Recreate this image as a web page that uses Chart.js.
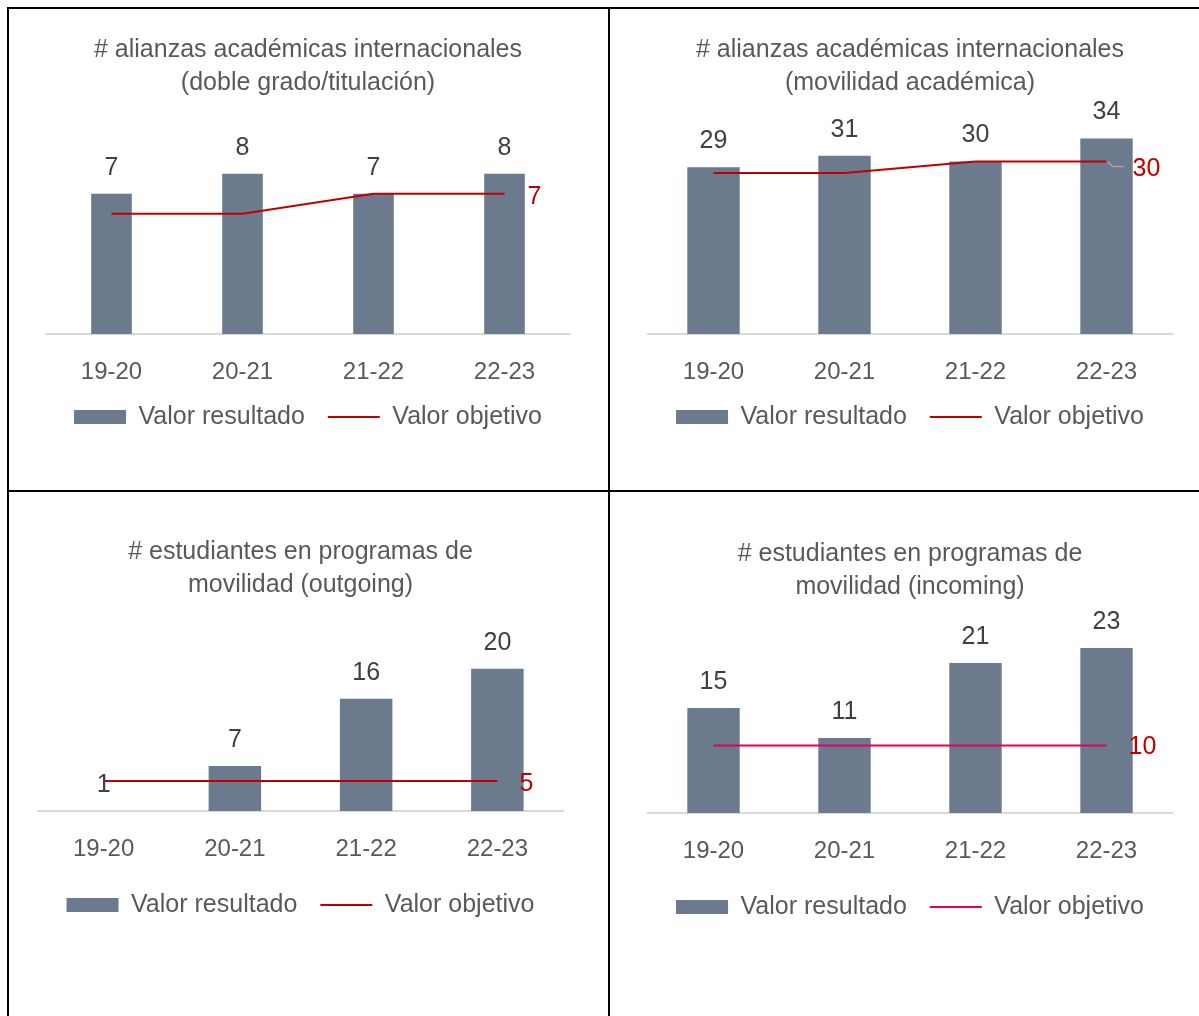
<!DOCTYPE html>
<html lang="es">
<head>
<meta charset="utf-8">
<script src="https://cdn.jsdelivr.net/npm/chart.js@4.4.0/dist/chart.umd.min.js"></script>
<style>
  html, body { margin: 0; padding: 0; background: #fff; }
  #pagina { position: relative; width: 1199px; height: 1016px; overflow: hidden; }
  .borde { position: absolute; background: #000; }
  canvas { position: absolute; }
</style>
</head>
<body>
<div id="pagina">
  <div class="borde" style="left:7px; top:7px; width:1192px; height:2px"></div>
  <div class="borde" style="left:7px; top:490px; width:1192px; height:2px"></div>
  <div class="borde" style="left:7px; top:7px; width:2px; height:1009px"></div>
  <div class="borde" style="left:608px; top:7px; width:2px; height:1009px"></div>
  <canvas id="g_doble_grado" width="597" height="479" style="left:10px; top:10px"></canvas>
  <canvas id="g_movilidad_acad" width="588" height="479" style="left:611px; top:10px"></canvas>
  <canvas id="g_outgoing" width="597" height="523" style="left:10px; top:493px"></canvas>
  <canvas id="g_incoming" width="588" height="523" style="left:611px; top:493px"></canvas>
</div>
<script>
// datos
const periodos = ['19-20', '20-21', '21-22', '22-23'];

const dobleGradoResultado = [7, 8, 7, 8];
const dobleGradoObjetivo = [6, 6, 7, 7];

const movilidadAcadResultado = [29, 31, 30, 34];
const movilidadAcadObjetivo = [28, 28, 30, 30];

const outgoingResultado = [1, 7, 16, 20];
const outgoingObjetivo = [5, 5, 5, 5];

const incomingResultado = [15, 11, 21, 23];
const incomingObjetivo = [10, 10, 10, 10];

const FUENTE = '"Liberation Sans", Arial, sans-serif';
const COR_BARRA = '#6b7a8d';
const COR_TEXTO = '#595959';

// etiquetas encima de las barras + valor al final de la linea objetivo
const etiquetasValores = {
  id: 'etiquetasValores',
  afterDatasetsDraw(chart, args, opts) {
    const ctx = chart.ctx;
    const barras = chart.getDatasetMeta(0);
    const valores = chart.data.datasets[0].data;

    ctx.save();
    ctx.font = '25px ' + FUENTE;
    ctx.fillStyle = '#404040';
    ctx.textAlign = 'center';
    ctx.textBaseline = 'middle';
    barras.data.forEach((barra, i) => {
      ctx.fillText(valores[i], barra.x, barra.y - 26);
    });

    const linea = chart.getDatasetMeta(1);
    const ultimo = linea.data[linea.data.length - 1];
    const objetivo = chart.data.datasets[1].data;
    const dx = opts.dx || 23;
    const dy = opts.dy || 3;

    if (opts.guia) {
      ctx.strokeStyle = '#a6a6a6';
      ctx.lineWidth = 1.5;
      ctx.beginPath();
      ctx.moveTo(ultimo.x + 1, ultimo.y);
      ctx.lineTo(ultimo.x + 6, ultimo.y + 5);
      ctx.lineTo(ultimo.x + 17, ultimo.y + 5);
      ctx.stroke();
    }

    ctx.fillStyle = '#c00000';
    ctx.textAlign = 'left';
    ctx.fillText(objetivo[objetivo.length - 1], ultimo.x + dx, ultimo.y + dy);
    ctx.restore();
  }
};

function grafico_barras_objetivo(config) {
  const {
    id,
    titulo,
    resultado,
    objetivo,
    minimo,
    maximo,
    anchoBarra,
    corLinha = '#c00000',
    relleno,
    tituloArriba,
    alturaEjeX,
    etiquetaFinal = {}
  } = config;

  const canvas = document.getElementById(id);
  const generarPadrao = Chart.defaults.plugins.legend.labels.generateLabels;

  return new Chart(canvas, {
    type: 'bar',
    data: {
      labels: periodos,
      datasets: [
        {
          type: 'bar',
          label: 'Valor resultado',
          data: resultado,
          backgroundColor: COR_BARRA,
          borderWidth: 0,
          barPercentage: anchoBarra,
          categoryPercentage: 1,
          order: 1
        },
        {
          type: 'line',
          label: 'Valor objetivo',
          data: objetivo,
          borderColor: corLinha,
          backgroundColor: corLinha,
          borderWidth: 2,
          pointRadius: 0,
          tension: 0,
          order: 0
        }
      ]
    },
    options: {
      responsive: false,
      animation: false,
      layout: { padding: { left: relleno.left, right: relleno.right, top: 0, bottom: relleno.bottom } },
      scales: {
        x: {
          grid: { display: false, drawTicks: false },
          border: { display: true, color: '#d9d9d9', width: 2 },
          ticks: { color: COR_TEXTO, font: { size: 24, family: FUENTE }, padding: 24 },
          afterFit: (escala) => { escala.height = alturaEjeX; }
        },
        y: { display: false, min: minimo, max: maximo }
      },
      plugins: {
        title: {
          display: true,
          text: titulo,
          color: COR_TEXTO,
          font: { size: 25, family: FUENTE, weight: 'normal', lineHeight: '33px' },
          padding: { top: tituloArriba, bottom: 8 }
        },
        legend: {
          position: 'bottom',
          labels: {
            color: COR_TEXTO,
            font: { size: 25, family: FUENTE },
            usePointStyle: true,
            pointStyleWidth: 52,
            boxHeight: 14,
            padding: 23,
            sort: (a, b) => a.datasetIndex - b.datasetIndex,
            generateLabels: (chart) => generarPadrao(chart).map(item => {
              item.pointStyle = item.datasetIndex === 0 ? 'rect' : 'line';
              return item;
            })
          }
        },
        tooltip: { enabled: false },
        etiquetasValores: etiquetaFinal
      }
    },
    plugins: [etiquetasValores]
  });
}

grafico_barras_objetivo({
  id: 'g_doble_grado',
  titulo: ['# alianzas académicas internacionales', '(doble grado/titulación)'],
  resultado: dobleGradoResultado,
  objetivo: dobleGradoObjetivo,
  minimo: 0,
  maximo: 11.3,
  anchoBarra: 0.31,
  relleno: { left: 36, right: 37, bottom: 49.5 },
  tituloArriba: 23.5,
  alturaEjeX: 47.5,
  etiquetaFinal: { dx: 23, dy: 3 }
});

grafico_barras_objetivo({
  id: 'g_movilidad_acad',
  titulo: ['# alianzas académicas internacionales', '(movilidad académica)'],
  resultado: movilidadAcadResultado,
  objetivo: movilidadAcadObjetivo,
  minimo: 0,
  maximo: 39.4,
  anchoBarra: 0.40,
  relleno: { left: 37, right: 27, bottom: 49.5 },
  tituloArriba: 23.5,
  alturaEjeX: 47.5,
  etiquetaFinal: { dx: 26, dy: 8, guia: true }
});

grafico_barras_objetivo({
  id: 'g_outgoing',
  titulo: ['# estudiantes en programas de', 'movilidad (outgoing)'],
  resultado: outgoingResultado,
  objetivo: outgoingObjetivo,
  minimo: 1,
  maximo: 27.9,
  anchoBarra: 0.40,
  relleno: { left: 28, right: 44, bottom: 88.5 },
  tituloArriba: 42.5,
  alturaEjeX: 58.5,
  etiquetaFinal: { dx: 22, dy: 3 }
});

grafico_barras_objetivo({
  id: 'g_incoming',
  titulo: ['# estudiantes en programas de', 'movilidad (incoming)'],
  resultado: incomingResultado,
  objetivo: incomingObjetivo,
  minimo: 1,
  maximo: 27.87,
  anchoBarra: 0.40,
  corLinha: '#e4005b',
  relleno: { left: 37, right: 27, bottom: 86.5 },
  tituloArriba: 44.5,
  alturaEjeX: 58.5,
  etiquetaFinal: { dx: 22, dy: 2 }
});
</script>
</body>
</html>
